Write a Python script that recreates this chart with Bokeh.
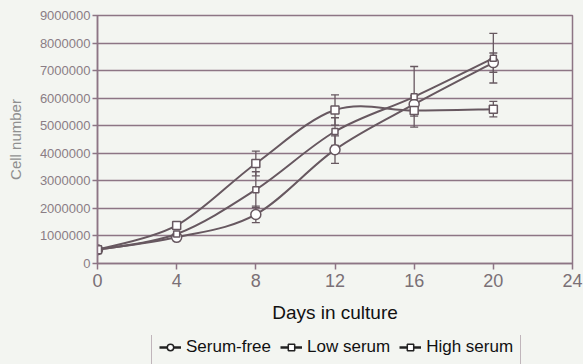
from bokeh.plotting import figure
from bokeh.layouts import column
from bokeh.models import (ColumnDataSource, Whisker, TeeHead, FixedTicker, Legend, LegendItem,
                          BasicTickFormatter, Range1d)
from bokeh.embed import file_html
from bokeh.resources import INLINE

# ---- data ----
days = [0, 4, 8, 12, 16, 20]
serum_free = [500000, 950000, 1780000, 4130000, 5780000, 7290000]
serum_free_err = [0, 0, 300000, 500000, 300000, 350000]
low_serum = [500000, 1070000, 2680000, 4790000, 6050000, 7450000]
low_serum_err = [0, 0, 650000, 500000, 1100000, 900000]
high_serum = [500000, 1380000, 3630000, 5570000, 5550000, 5600000]
high_serum_err = [0, 0, 450000, 550000, 200000, 280000]
x_ticks = [0, 4, 8, 12, 16, 20, 24]
y_ticks = [0, 1000000, 2000000, 3000000, 4000000, 5000000, 6000000, 7000000, 8000000, 9000000]
series_names = ["Serum-free", "Low serum", "High serum"]

LINE = "#675860"
GRID = "#8d7585"
BG = "#f3f5f1"
FONT = "Liberation Sans"

p = figure(width=583, height=335, output_backend="svg", toolbar_location=None,
           x_range=Range1d(0, 24), y_range=Range1d(0, 9000000),
           min_border_left=97, min_border_right=11, min_border_top=15, min_border_bottom=72)
p.background_fill_color = BG
p.border_fill_color = BG
p.outline_line_color = GRID
p.outline_line_width = 1.5

p.xgrid.grid_line_color = None
p.ygrid.grid_line_color = GRID
p.ygrid.grid_line_width = 1.5

p.xaxis.ticker = FixedTicker(ticks=x_ticks)
p.yaxis.ticker = FixedTicker(ticks=y_ticks)
p.yaxis.formatter = BasicTickFormatter(use_scientific=False)
for ax in (p.xaxis, p.yaxis):
    ax.axis_line_color = GRID
    ax.axis_line_width = 1.5
    ax.major_tick_line_color = GRID
    ax.major_tick_line_width = 1.5
    ax.major_tick_in = 0
    ax.minor_tick_line_color = None
    ax.major_label_text_font = FONT
    ax.axis_label_text_font = FONT
    ax.axis_label_text_font_style = "normal"

p.xaxis.major_tick_out = 6
p.xaxis.major_label_text_font_size = "18px"
p.xaxis.major_label_text_color = "#7a7076"
p.xaxis.major_label_standoff = 4
p.xaxis.axis_label = "Days in culture"
p.xaxis.axis_label_text_font_size = "19px"
p.xaxis.axis_label_text_color = "#111111"
p.xaxis.axis_label_standoff = 12

p.yaxis.major_tick_out = 5
p.yaxis.major_label_text_font_size = "13px"
p.yaxis.major_label_text_color = "#8a7d85"
p.yaxis.major_label_standoff = 2
p.yaxis.axis_label = "Cell number"
p.yaxis.axis_label_text_font_size = "15px"
p.yaxis.axis_label_text_color = "#8f8f8f"
p.yaxis.axis_label_standoff = 13


def bezier_source(xs, ys):
    # Catmull-Rom style smoothing (like spreadsheet "smoothed line")
    n = len(xs)
    d = dict(x0=[], y0=[], x1=[], y1=[], cx0=[], cy0=[], cx1=[], cy1=[])
    for i in range(n - 1):
        i0 = max(i - 1, 0)
        i3 = min(i + 2, n - 1)
        d["x0"].append(xs[i]); d["y0"].append(ys[i])
        d["x1"].append(xs[i + 1]); d["y1"].append(ys[i + 1])
        d["cx0"].append(xs[i] + (xs[i + 1] - xs[i0]) / 6.0)
        d["cy0"].append(ys[i] + (ys[i + 1] - ys[i0]) / 6.0)
        d["cx1"].append(xs[i + 1] - (xs[i3] - xs[i]) / 6.0)
        d["cy1"].append(ys[i + 1] - (ys[i3] - ys[i]) / 6.0)
    return ColumnDataSource(d)


series = [(serum_free, serum_free_err, "circle", 10),
          (low_serum, low_serum_err, "square", 6),
          (high_serum, high_serum_err, "square", 8)]

# legend strip below the chart (its proxy glyphs sit outside its own visible range)
lf = figure(width=583, height=29, output_backend="svg", toolbar_location=None,
            x_axis_type=None, y_axis_type=None,
            x_range=Range1d(-2, -1), y_range=Range1d(-2, -1),
            min_border_left=97, min_border_right=11, min_border_top=0, min_border_bottom=0)
lf.background_fill_color = BG
lf.border_fill_color = BG
lf.outline_line_color = None
lf.xgrid.grid_line_color = None
lf.ygrid.grid_line_color = None

items = []
for name, (vals, errs, marker, size) in zip(series_names, series):
    p.bezier(x0="x0", y0="y0", x1="x1", y1="y1", cx0="cx0", cy0="cy0", cx1="cx1", cy1="cy1",
             source=bezier_source(days, vals), line_color=LINE, line_width=2)
    xs_e = [d for d, e in zip(days, errs) if e > 0]
    up = [v + e for v, e in zip(vals, errs) if e > 0]
    lo = [v - e for v, e in zip(vals, errs) if e > 0]
    esrc = ColumnDataSource(dict(x=xs_e, upper=up, lower=lo))
    w = Whisker(base="x", upper="upper", lower="lower", source=esrc, line_color=LINE, line_width=1.3,
                upper_head=TeeHead(size=8, line_color=LINE, line_width=1.3),
                lower_head=TeeHead(size=8, line_color=LINE, line_width=1.3))
    p.add_layout(w)
    p.scatter(days, vals, marker=marker, size=size, fill_color="white",
              line_color=LINE, line_width=1.5)
    lr = lf.line(x=days[:2], y=days[:2], line_color="#222222", line_width=2.5)
    sr = lf.scatter(x=days[:1], y=days[:1], marker=marker, size=max(size - 2, 5),
                    fill_color="white", line_color="#222222", line_width=1.5)
    items.append(LegendItem(label=name, renderers=[lr, sr]))

legend = Legend(items=items, orientation="horizontal", location=(54, -1),
                label_text_font=FONT, label_text_font_size="17px", label_text_color="#111111",
                glyph_width=22, glyph_height=16, label_height=16, label_standoff=5,
                spacing=9, padding=7, margin=0,
                border_line_color=GRID, border_line_width=1.5,
                background_fill_color=BG, background_fill_alpha=1)
lf.add_layout(legend, "center")

layout = column(p, lf, spacing=0, styles={"background-color": BG})
open("out.html", "w").write(file_html(layout, INLINE))
